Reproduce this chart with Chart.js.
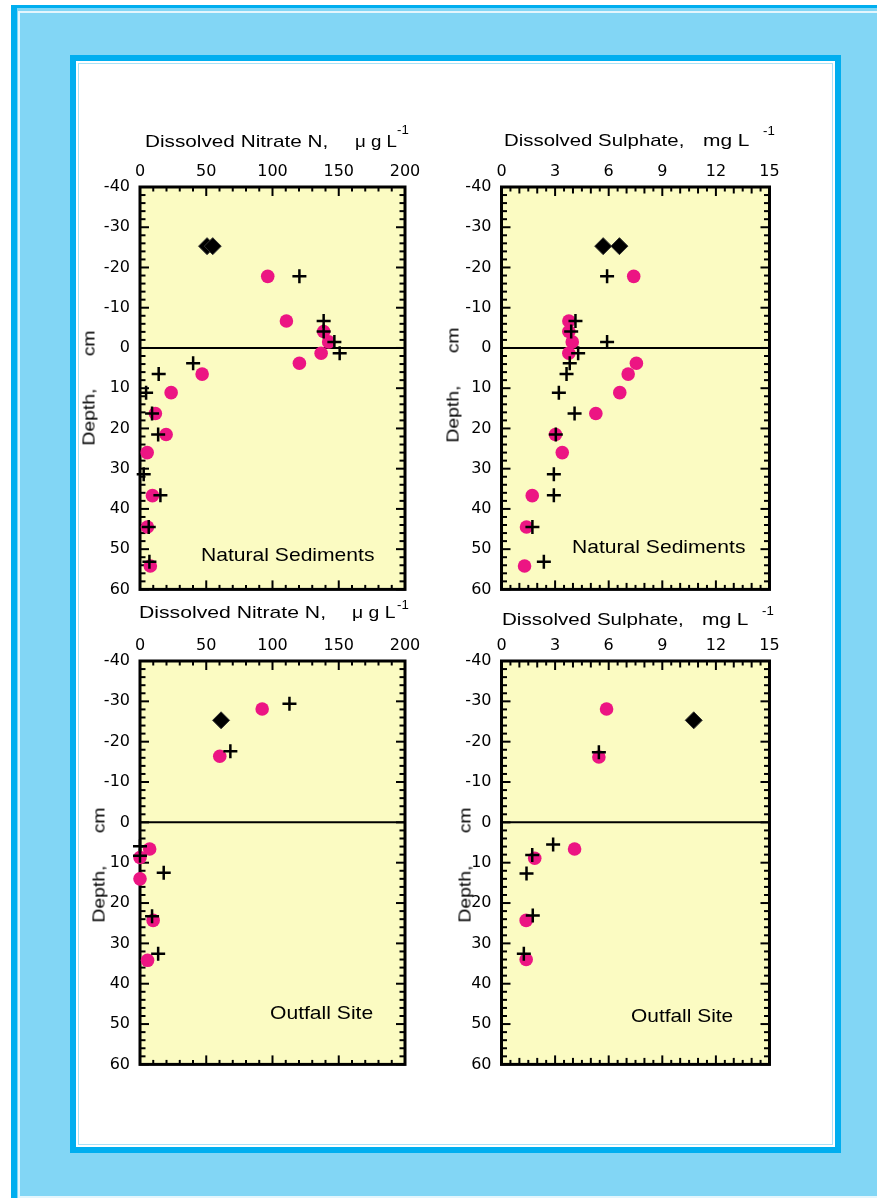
<!DOCTYPE html>
<html>
<head>
<meta charset="utf-8">
<script src="https://cdn.jsdelivr.net/npm/chart.js@4.4.1/dist/chart.umd.min.js"></script>
<style>
html,body{margin:0;padding:0;background:#fff;width:877px;height:1198px;overflow:hidden;position:relative;font-family:"Liberation Sans",Arial,sans-serif;}
#outer{position:absolute;left:11px;top:5px;width:900px;height:1210px;background:#82D6F5;border-left:6px solid #00AEEF;border-top:3px solid #00AEEF;box-sizing:border-box;}
#outerLine{position:absolute;left:18px;top:11px;width:900px;height:1187px;border-left:2px solid #E4F6FD;border-top:2px solid #E4F6FD;border-bottom:2px solid #E4F6FD;box-sizing:border-box;}
#panel{position:absolute;left:70px;top:55px;width:771px;height:1098px;background:#fff;border:6px solid #00AEEF;box-sizing:border-box;box-shadow:inset 0 0 0 2px #fff, inset 0 0 0 3px #A9E2F7;}
canvas{position:absolute;}
.t{position:absolute;white-space:pre;line-height:1;color:#000;transform-origin:0 0;z-index:5;}
.v{position:absolute;white-space:pre;line-height:1;color:#000;font-size:17px;transform-origin:50% 50%;z-index:5;}
</style>
</head>
<body>
<div id="outer"></div>
<div id="outerLine"></div>
<div id="panel"></div>

<canvas id="cTL"></canvas>
<canvas id="cTR"></canvas>
<canvas id="cBL"></canvas>
<canvas id="cBR"></canvas>

<!-- axis titles -->
<div class="t" style="left:145px;top:132.9px;font-size:17px;transform:scaleX(1.22)">Dissolved Nitrate N,</div>
<div class="t" style="left:355px;top:132.9px;font-size:17px;transform:scaleX(1.1)">μ g L</div>
<div class="t" style="left:397px;top:124px;font-size:12px;transform:scaleX(1.1)">-1</div>

<div class="t" style="left:503.5px;top:132.3px;font-size:17px;transform:scaleX(1.2)">Dissolved Sulphate,</div>
<div class="t" style="left:703.3px;top:132.3px;font-size:17px;transform:scaleX(1.23)">mg L</div>
<div class="t" style="left:763px;top:124.8px;font-size:12px;transform:scaleX(1.1)">-1</div>

<div class="t" style="left:139.3px;top:603.9px;font-size:17px;transform:scaleX(1.245)">Dissolved Nitrate N,</div>
<div class="t" style="left:351.5px;top:603.9px;font-size:17px;transform:scaleX(1.14)">μ g L</div>
<div class="t" style="left:397px;top:598.8px;font-size:12px;transform:scaleX(1.1)">-1</div>

<div class="t" style="left:501.7px;top:610.6px;font-size:17px;transform:scaleX(1.21)">Dissolved Sulphate,</div>
<div class="t" style="left:701.7px;top:610.6px;font-size:17px;transform:scaleX(1.23)">mg L</div>
<div class="t" style="left:762px;top:604.8px;font-size:12px;transform:scaleX(1.1)">-1</div>

<!-- depth titles -->
<div class="v" style="left:89px;top:387.5px;transform:translate(-50%,-50%) rotate(-90deg) scaleX(1.14)">Depth,      cm</div>
<div class="v" style="left:452.5px;top:385px;transform:translate(-50%,-50%) rotate(-90deg) scaleX(1.14)">Depth,      cm</div>
<div class="v" style="left:98.5px;top:865px;transform:translate(-50%,-50%) rotate(-90deg) scaleX(1.14)">Depth,      cm</div>
<div class="v" style="left:465px;top:865px;transform:translate(-50%,-50%) rotate(-90deg) scaleX(1.14)">Depth,      cm</div>

<!-- site annotations -->
<div class="t" style="left:200.7px;top:544.6px;font-size:19px;transform:scaleX(1.11)">Natural Sediments</div>
<div class="t" style="left:571.7px;top:537.2px;font-size:19px;transform:scaleX(1.11)">Natural Sediments</div>
<div class="t" style="left:270px;top:1003.2px;font-size:19px;transform:scaleX(1.11)">Outfall Site</div>
<div class="t" style="left:630.7px;top:1005.6px;font-size:19px;transform:scaleX(1.10)">Outfall Site</div>

<script>
// ---------------- DATA ----------------
const DEPTH_TICKS = [-40, -30, -20, -10, 0, 10, 20, 30, 40, 50, 60];
const NITRATE_TICKS = [0, 50, 100, 150, 200];
const SULPHATE_TICKS = [0, 3, 6, 9, 12, 15];

// Natural sediments (sample depths, cm; negative = overlying water)
const NAT_CIRCLE_DEPTH = [-17.8, -6.7, -4.1, -1.5, 1.3, 3.8, 6.5, 11.1, 16.3, 21.5, 26, 36.7, 44.5, 54.2];
const NAT_PLUS_DEPTH   = [-17.8, -6.7, -4.1, -1.5, 1.3, 3.8, 6.5, 11.1, 16.3, 21.5, 31.4, 36.6, 44.5, 53.1];
const NAT_DIAMOND_DEPTH = [-25.3, -25.3];

const NAT_NITRATE_CIRCLE = [96.4, 110.5, 138.6, 142.4, 136.7, 120.3, 46.9, 23.5, 11.6, 19.7, 5.4, 9.4, 5.6, 7.8];
const NAT_NITRATE_PLUS   = [120.3, 138.6, 138.6, 146.7, 150.7, 40.1, 14.1, 4.6, 9.1, 13.7, 2.8, 15.4, 6.6, 7.1];
const NAT_NITRATE_DIAMOND = [50.6, 54.9];

const NAT_SULPHATE_CIRCLE = [7.4, 3.77, 3.77, 3.96, 3.77, 7.55, 7.09, 6.62, 5.28, 3.02, 3.4, 1.72, 1.4, 1.29];
const NAT_SULPHATE_PLUS   = [5.91, 4.14, 3.9, 5.91, 4.29, 3.82, 3.64, 3.21, 4.09, 3.04, 2.93, 2.93, 1.73, 2.37];
const NAT_SULPHATE_DIAMOND = [5.69, 6.6];

// Outfall site
const OUT_NITRATE_CIRCLE_DEPTH = [-28.1, -16.4, 6.6, 8.7, 14, 24.3, 34.2];
const OUT_NITRATE_CIRCLE       = [92.2, 60.2, 7.3, 0, 0, 9.9, 5.7];
const OUT_NITRATE_PLUS_DEPTH   = [-29.4, -17.6, 5.9, 8.3, 12.5, 23.3, 32.6];
const OUT_NITRATE_PLUS         = [112.8, 68.2, 0, 0, 17.9, 9.1, 13.7];
const OUT_NITRATE_DIAMOND_DEPTH = [-25.3];
const OUT_NITRATE_DIAMOND       = [61.2];

const OUT_SULPHATE_CIRCLE_DEPTH = [-28.1, -16.2, 6.6, 8.9, 24.3, 34];
const OUT_SULPHATE_CIRCLE       = [5.88, 5.45, 4.09, 1.86, 1.38, 1.38];
const OUT_SULPHATE_PLUS_DEPTH   = [-17.4, 5.5, 8.1, 12.7, 23.1, 32.6];
const OUT_SULPHATE_PLUS         = [5.45, 2.89, 1.72, 1.4, 1.75, 1.25];
const OUT_SULPHATE_DIAMOND_DEPTH = [-25.3];
const OUT_SULPHATE_DIAMOND       = [10.76];

const ZERO_DEPTH = 0;

// ---------------- STYLE ----------------
const PINK = '#EC1583';
const PLOT_BG = '#FBFBC2';
const TICK_FONT = {family: '"DejaVu Sans", "Liberation Sans", sans-serif', size: 16};

const pairs = (xs, ys) => xs.map((v, i) => ({x: v, y: ys[i]}));
const isMult = (v, s) => Math.abs(v / s - Math.round(v / s)) < 1e-6;

const framePlugin = {
  id: 'frame',
  beforeDraw(chart) {
    const {ctx, chartArea: a} = chart;
    ctx.save();
    ctx.fillStyle = PLOT_BG;
    ctx.fillRect(a.left, a.top, a.right - a.left, a.bottom - a.top);
    ctx.restore();
  },
  beforeDatasetsDraw(chart, args, o) {
    const {ctx, chartArea: a, scales: {x, y}} = chart;
    ctx.save();
    ctx.strokeStyle = '#000';
    ctx.lineWidth = 2;
    ctx.lineCap = 'butt';
    const seg = (x1, y1, x2, y2) => { ctx.beginPath(); ctx.moveTo(x1, y1); ctx.lineTo(x2, y2); ctx.stroke(); };
    const nx = Math.round((x.max - x.min) / o.xMinor);
    for (let i = 0; i <= nx; i++) {
      const v = x.min + i * o.xMinor;
      const len = isMult(v, o.xMajor) ? 9 : (o.xMid && isMult(v, o.xMid) ? 6.5 : 4.5);
      const p = x.getPixelForValue(v);
      seg(p, a.top, p, a.top + len);
      seg(p, a.bottom, p, a.bottom - len);
    }
    const ny = Math.round((y.max - y.min) / o.yMinor);
    for (let i = 0; i <= ny; i++) {
      const v = y.min + i * o.yMinor;
      const len = isMult(v, o.yMajor) ? 9 : 5.5;
      const p = y.getPixelForValue(v);
      seg(a.left, p, a.left + len, p);
      seg(a.right, p, a.right - len, p);
    }
    ctx.lineWidth = 3;
    ctx.strokeRect(a.left, a.top, a.right - a.left, a.bottom - a.top);
    ctx.restore();
  }
};

function makePanel(id, rect, xTicks, tickSpec, series) {
  const canvas = document.getElementById(id);
  const cl = Math.floor(rect.L - 62), ct = Math.floor(rect.T - 40);
  const cw = Math.ceil(rect.R + 22) - cl, ch = Math.ceil(rect.B + 16) - ct;
  canvas.width = cw; canvas.height = ch;
  canvas.style.left = cl + 'px'; canvas.style.top = ct + 'px';
  canvas.style.width = cw + 'px'; canvas.style.height = ch + 'px';
  const yW = rect.L - cl, xH = rect.T - ct;
  const xMin = xTicks[0], xMax = xTicks[xTicks.length - 1];

  new Chart(canvas, {
    type: 'scatter',
    data: {
      datasets: [
        {label: 'plus', data: pairs(series.plusX, series.plusD), order: 1, clip: false,
         pointStyle: 'cross', pointRadius: 7, pointBorderWidth: 2.5,
         pointBorderColor: '#000', pointBackgroundColor: '#000'},
        {label: 'circle', data: pairs(series.circleX, series.circleD), order: 2, clip: false,
         pointStyle: 'circle', pointRadius: 6.8, pointBorderWidth: 0,
         pointBorderColor: PINK, pointBackgroundColor: PINK},
        {label: 'diamond', data: pairs(series.diamondX, series.diamondD), order: 3, clip: false,
         pointStyle: 'rectRot', pointRadius: 8.5, pointBorderWidth: 1,
         pointBorderColor: '#333', pointBackgroundColor: '#000'},
        {label: 'zero', data: [{x: xMin, y: ZERO_DEPTH}, {x: xMax, y: ZERO_DEPTH}], order: 4,
         showLine: true, borderColor: '#000', borderWidth: 2, pointRadius: 0}
      ]
    },
    options: {
      responsive: false, animation: false, events: [], devicePixelRatio: 1,
      layout: {padding: {left: 0, top: 0, right: cw - (rect.R - cl), bottom: ch - (rect.B - ct)}},
      plugins: {legend: {display: false}, tooltip: {enabled: false}, frame: tickSpec},
      scales: {
        x: {
          type: 'linear', position: 'top', min: xMin, max: xMax,
          afterBuildTicks: s => { s.ticks = xTicks.map(v => ({value: v})); },
          afterFit: s => { s.height = xH; },
          ticks: {padding: 5.5, font: TICK_FONT, color: '#000', maxRotation: 0, autoSkip: false},
          grid: {display: false, drawTicks: false}, border: {display: false}
        },
        y: {
          type: 'linear', position: 'left', min: DEPTH_TICKS[0], max: DEPTH_TICKS[DEPTH_TICKS.length - 1], reverse: true,
          afterBuildTicks: s => { s.ticks = DEPTH_TICKS.map(v => ({value: v})); },
          afterFit: s => { s.width = yW; },
          ticks: {padding: 10, font: TICK_FONT, color: '#000', autoSkip: false},
          grid: {display: false, drawTicks: false}, border: {display: false}
        }
      }
    },
    plugins: [framePlugin]
  });
}

const NIT_SPEC = {xMinor: 10, xMid: 0, xMajor: 50, yMinor: 2, yMajor: 10};
const SUL_SPEC = {xMinor: 0.5, xMid: 1, xMajor: 3, yMinor: 2, yMajor: 10};

makePanel('cTL', {L: 140, T: 187, R: 405, B: 593}, NITRATE_TICKS, NIT_SPEC, {
  plusX: NAT_NITRATE_PLUS, plusD: NAT_PLUS_DEPTH,
  circleX: NAT_NITRATE_CIRCLE, circleD: NAT_CIRCLE_DEPTH,
  diamondX: NAT_NITRATE_DIAMOND, diamondD: NAT_DIAMOND_DEPTH});

makePanel('cTR', {L: 501.5, T: 187, R: 769.5, B: 593}, SULPHATE_TICKS, SUL_SPEC, {
  plusX: NAT_SULPHATE_PLUS, plusD: NAT_PLUS_DEPTH,
  circleX: NAT_SULPHATE_CIRCLE, circleD: NAT_CIRCLE_DEPTH,
  diamondX: NAT_SULPHATE_DIAMOND, diamondD: NAT_DIAMOND_DEPTH});

makePanel('cBL', {L: 140, T: 661, R: 405, B: 1067.5}, NITRATE_TICKS, NIT_SPEC, {
  plusX: OUT_NITRATE_PLUS, plusD: OUT_NITRATE_PLUS_DEPTH,
  circleX: OUT_NITRATE_CIRCLE, circleD: OUT_NITRATE_CIRCLE_DEPTH,
  diamondX: OUT_NITRATE_DIAMOND, diamondD: OUT_NITRATE_DIAMOND_DEPTH});

makePanel('cBR', {L: 501.5, T: 661, R: 769.5, B: 1067.5}, SULPHATE_TICKS, SUL_SPEC, {
  plusX: OUT_SULPHATE_PLUS, plusD: OUT_SULPHATE_PLUS_DEPTH,
  circleX: OUT_SULPHATE_CIRCLE, circleD: OUT_SULPHATE_CIRCLE_DEPTH,
  diamondX: OUT_SULPHATE_DIAMOND, diamondD: OUT_SULPHATE_DIAMOND_DEPTH});
</script>
</body>
</html>
